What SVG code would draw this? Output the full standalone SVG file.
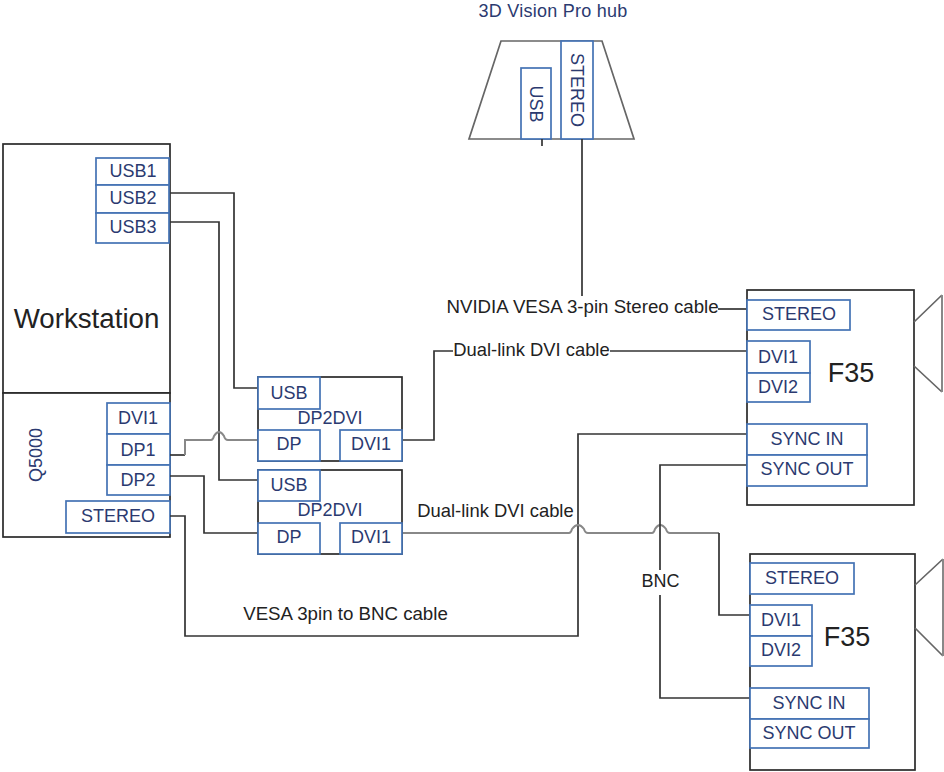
<svg xmlns="http://www.w3.org/2000/svg" width="944" height="772" viewBox="0 0 944 772">
<style>
text{font-family:"Liberation Sans",Arial,sans-serif;font-size:18px;fill:#2b3a70;text-anchor:middle}
.k{fill:#222}
.b{fill:#fff;stroke:#2a2a2a;stroke-width:1.7}
.p{fill:#fff;stroke:#4472b4;stroke-width:1.7}
.c{fill:none;stroke:#333;stroke-width:1.7}
.g{fill:none;stroke:#888;stroke-width:2}
.d{fill:none;stroke:#666;stroke-width:1.7}
</style>
<g id="hub">
<path class="d" d="M501 41H602L634 139H469Z"/>
<rect class="p" x="521" y="68" width="30" height="71"/>
<rect class="p" x="561" y="41" width="32" height="98"/>
<text x="553" y="16.500" style="letter-spacing:.25px">3D Vision Pro hub</text>
<text transform="translate(530 104) rotate(90)">USB</text>
<text transform="translate(570.500 90) rotate(90)">STEREO</text>
</g>
<g id="workstation">
<rect class="b" x="3" y="144" width="167" height="249"/>
<text class="k" x="86.500" y="328" style="font-size:27.700px">Workstation</text>
<rect class="p" x="96" y="158" width="73" height="27"/><text x="133" y="177">USB1</text>
<rect class="p" x="96" y="185" width="73" height="28"/><text x="133" y="204">USB2</text>
<rect class="p" x="96" y="213" width="73" height="30"/><text x="133" y="233">USB3</text>
</g>
<g id="q5000">
<rect class="b" x="3" y="393" width="167" height="144"/>
<text transform="translate(41.500 455) rotate(-90)">Q5000</text>
<rect class="p" x="107" y="403" width="63" height="31"/><text x="138" y="424">DVI1</text>
<rect class="p" x="107" y="434" width="63" height="31"/><text x="138" y="456">DP1</text>
<rect class="p" x="107" y="465" width="63" height="30"/><text x="138" y="486">DP2</text>
<rect class="p" x="66" y="501" width="104" height="32"/><text x="118" y="522">STEREO</text>
</g>
<g id="connectors">
<path class="c" d="M170 193H234V388H258"/>
<path class="c" d="M170 222H219V480H258"/>
<path class="c" d="M170 455H185"/>
<path class="g" d="M185 455V440H211Q213 440 214 436Q219 428 224 436Q225 440 228 440H258"/>
<path class="c" d="M170 476H204V533H258"/>
<path class="c" d="M170 516H185V636H578V434H748"/>
<path class="c" d="M403 440H434V351H453"/>
<path class="c" d="M610 351H748"/>
<path class="g" d="M403 533H569Q571 533 572 529Q578 521 584 529Q585 533 588 533H652Q654 533 655 529Q660 521 666 529Q667 533 670 533H719"/>
<path class="c" d="M719 533V615H750"/>
<path class="c" d="M748 465H660V570"/>
<path class="c" d="M660 595V698H751"/>
<path class="c" d="M582 139V296"/>
<path class="c" d="M718 309H748"/>
<path class="c" d="M542 139V146"/>
</g>
<g id="dp2dvi-1">
<rect class="b" x="258" y="377" width="144" height="84"/>
<rect class="p" x="258" y="377" width="62" height="32"/><text x="289" y="399">USB</text>
<text x="330" y="424">DP2DVI</text>
<rect class="p" x="258" y="430" width="62" height="31"/><text x="289" y="450">DP</text>
<rect class="p" x="340" y="430" width="62" height="31"/><text x="371" y="450">DVI1</text>
</g>
<g id="dp2dvi-2">
<rect class="b" x="258" y="470" width="144" height="84"/>
<rect class="p" x="258" y="470" width="62" height="31"/><text x="289" y="491">USB</text>
<text x="330" y="516">DP2DVI</text>
<rect class="p" x="258" y="523" width="62" height="31"/><text x="289" y="543">DP</text>
<rect class="p" x="340" y="523" width="62" height="31"/><text x="371" y="543">DVI1</text>
</g>
<g id="f35-1">
<rect class="b" x="747" y="290" width="167" height="215"/>
<path class="d" d="M914 322L942 295M914 366L942 392"/>
<path class="g" d="M942 295V392"/>
<rect class="p" x="747" y="300" width="103" height="30"/><text x="799" y="320">STEREO</text>
<rect class="p" x="747" y="341" width="63" height="32"/><text x="778" y="363">DVI1</text>
<rect class="p" x="747" y="373" width="63" height="29"/><text x="778" y="393">DVI2</text>
<rect class="p" x="747" y="424" width="120" height="31"/><text x="807" y="445">SYNC IN</text>
<rect class="p" x="747" y="455" width="120" height="31"/><text x="807" y="475">SYNC OUT</text>
<text class="k" x="851" y="382" style="font-size:27px">F35</text>
</g>
<g id="f35-2">
<rect class="b" x="750" y="554" width="165" height="216"/>
<path class="d" d="M915 585L943 559M915 628L943 656"/>
<path class="g" d="M943 559V656"/>
<rect class="p" x="750" y="563" width="104" height="31"/><text x="802" y="584">STEREO</text>
<rect class="p" x="750" y="605" width="62" height="31"/><text x="781" y="626">DVI1</text>
<rect class="p" x="750" y="636" width="62" height="30"/><text x="781" y="656">DVI2</text>
<rect class="p" x="750" y="688" width="119" height="31"/><text x="809" y="709">SYNC IN</text>
<rect class="p" x="750" y="719" width="119" height="29"/><text x="809" y="739">SYNC OUT</text>
<text class="k" x="847" y="646" style="font-size:27px">F35</text>
</g>
<g id="labels">
<text class="k" x="582.500" y="313" style="font-size:18.700px">NVIDIA VESA 3-pin Stereo cable</text>
<text class="k" x="531.500" y="356" style="font-size:18.400px">Dual-link DVI cable</text>
<text class="k" x="495.500" y="517" style="font-size:18.400px">Dual-link DVI cable</text>
<text class="k" x="345.500" y="620" style="font-size:18.700px">VESA 3pin to BNC cable</text>
<text class="k" x="660.500" y="587">BNC</text>
</g>
</svg>
